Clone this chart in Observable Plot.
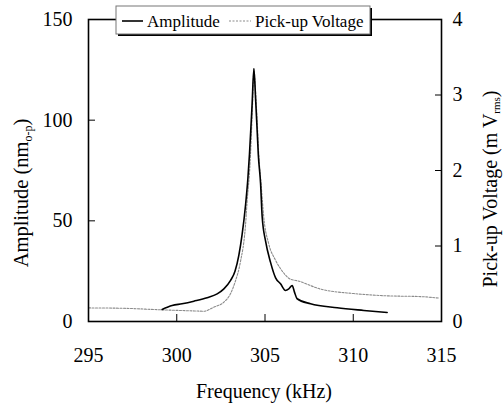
<!DOCTYPE html>
<html><head><meta charset="utf-8">
<script src="https://cdn.jsdelivr.net/npm/d3@7"></script>
<script src="https://cdn.jsdelivr.net/npm/@observablehq/plot@0.6"></script>
<style>body{margin:0;background:#fff} svg{display:block} svg text{font-family:'Liberation Serif','Times New Roman',serif !important}</style>
</head><body><div id="chart"></div>
<script>
const ampFreq = [299.17,299.74,300.3,300.97,301.72,302.29,302.67,303.05,303.3,303.52,303.7,303.9,304.03,304.12,304.27,304.37,304.47,304.56,304.62,304.75,304.84,305.03,305.31,305.6,305.88,306.16,306.35,306.54,306.67,306.82,307.58,309.09,310.6,311.92];
const ampVal  = [6.0,7.9,8.8,10.1,11.8,13.7,16.2,20.4,25,33,43,58,71,83,108,125.5,110,94,83,68.5,52,40,29.5,21.7,18.7,15.4,16.2,17.9,14.6,11.3,8.8,6.8,5.5,4.5];
const voltFreq = [295.0,297.0,299.08,300.2,301.0,301.53,302.1,302.67,303.05,303.33,303.6,303.9,303.99,304.14,304.3,304.37,304.46,304.56,304.65,304.78,304.93,305.21,305.6,306.0,306.44,306.82,308.14,310.03,311.92,313.8,314.85];
const voltVal  = [0.18,0.175,0.155,0.146,0.14,0.136,0.19,0.256,0.37,0.54,0.78,1.29,1.6,2.04,2.9,3.35,3.08,2.64,2.2,1.82,1.38,1.03,0.81,0.66,0.56,0.54,0.43,0.37,0.34,0.33,0.31];
const xTicks = [295,300,305,310,315];
const yLeftTicks = [0,50,100,150];
const yRightTicks = [0,1,2,3,4];
const seriesNames = ["Amplitude","Pick-up Voltage"];

const K = 150/4; // right-axis (mV) to left-axis (nm) scale factor
const amp = ampFreq.map((f,i)=>({f, v: ampVal[i]}));
const volt = voltFreq.map((f,i)=>({f, v: voltVal[i]*K}));
const font = "'Liberation Serif','Times New Roman',serif";
const ax = {fontSize:20, label:null};

const chart = Plot.plot({
  width:504, height:403, marginLeft:88, marginRight:63, marginTop:19, marginBottom:82,
  style:{fontFamily:font, fontSize:"20px", color:"#000", background:"#fff", overflow:"visible"},
  x:{domain:[295,315]}, y:{domain:[0,150]},
  marks:[
    Plot.line(volt,{x:"f",y:"v",stroke:"#8c8c8c",strokeWidth:1.1,strokeDasharray:"2,1.5",curve:"monotone-x"}),
    Plot.line(amp,{x:"f",y:"v",stroke:"#000",strokeWidth:1.6,curve:"monotone-x"}),
    Plot.frame({stroke:"#000",strokeWidth:1.6}),
    Plot.axisX({...ax,ticks:xTicks,tickSize:0,tickPadding:26}),
    Plot.axisX({...ax,ticks:xTicks.slice(1,-1),tickSize:-7,tickFormat:()=>""}),
    Plot.axisY({...ax,ticks:yLeftTicks,anchor:"left",tickSize:0,tickPadding:16}),
    Plot.axisY({...ax,ticks:yLeftTicks.slice(1,-1),anchor:"left",tickSize:-7,tickFormat:()=>""}),
    Plot.axisY({...ax,ticks:yRightTicks.map(v=>v*K),anchor:"right",tickSize:0,tickPadding:11,tickFormat:d=>String(Math.round(d/K))}),
    Plot.axisY({...ax,ticks:yRightTicks.slice(1,-1).map(v=>v*K),anchor:"right",tickSize:-7,tickFormat:()=>""})
  ]
});
document.getElementById("chart").append(chart);

const svg = d3.select(chart);
const T = (sel)=>sel.attr("font-family",font).attr("fill","#000");
// axis titles
T(svg.append("text")).attr("x",264).attr("y",398).attr("text-anchor","middle")
  .attr("font-size",20).text("Frequency (kHz)");
const lt = T(svg.append("text")).attr("transform","translate(28,193) rotate(-90)").attr("text-anchor","middle")
  .attr("font-size",20.5);
lt.append("tspan").text("Amplitude (nm");
lt.append("tspan").attr("dy",4).attr("font-size",12).text("o-p");
lt.append("tspan").attr("dy",-4).text(")");
const rt = T(svg.append("text")).attr("transform","translate(497,189) rotate(-90)").attr("text-anchor","middle")
  .attr("font-size",20);
rt.append("tspan").text("Pick-up Voltage (m V");
rt.append("tspan").attr("dy",3).attr("font-size",11).text("rms");
rt.append("tspan").attr("dy",-3).text(")");

// legend
const lg = svg.append("g");
lg.append("rect").attr("x",118).attr("y",8).attr("width",254).attr("height",28).attr("fill","#000");
lg.append("rect").attr("x",116).attr("y",6).attr("width",254).attr("height",28).attr("fill","#fff").attr("stroke","#777").attr("stroke-width",1);
lg.append("line").attr("x1",122).attr("x2",143).attr("y1",21).attr("y2",21).attr("stroke","#000").attr("stroke-width",1.6);
T(lg.append("text")).attr("x",147).attr("y",27).attr("text-anchor","start").attr("font-size",17).text(seriesNames[0]);
lg.append("line").attr("x1",229).attr("x2",251).attr("y1",21).attr("y2",21).attr("stroke","#8c8c8c").attr("stroke-width",1.1).attr("stroke-dasharray","2,1.5");
T(lg.append("text")).attr("x",255).attr("y",27).attr("text-anchor","start").attr("font-size",17).text(seriesNames[1]);
svg.selectAll("text").attr("font-family",font);
</script></body></html>
